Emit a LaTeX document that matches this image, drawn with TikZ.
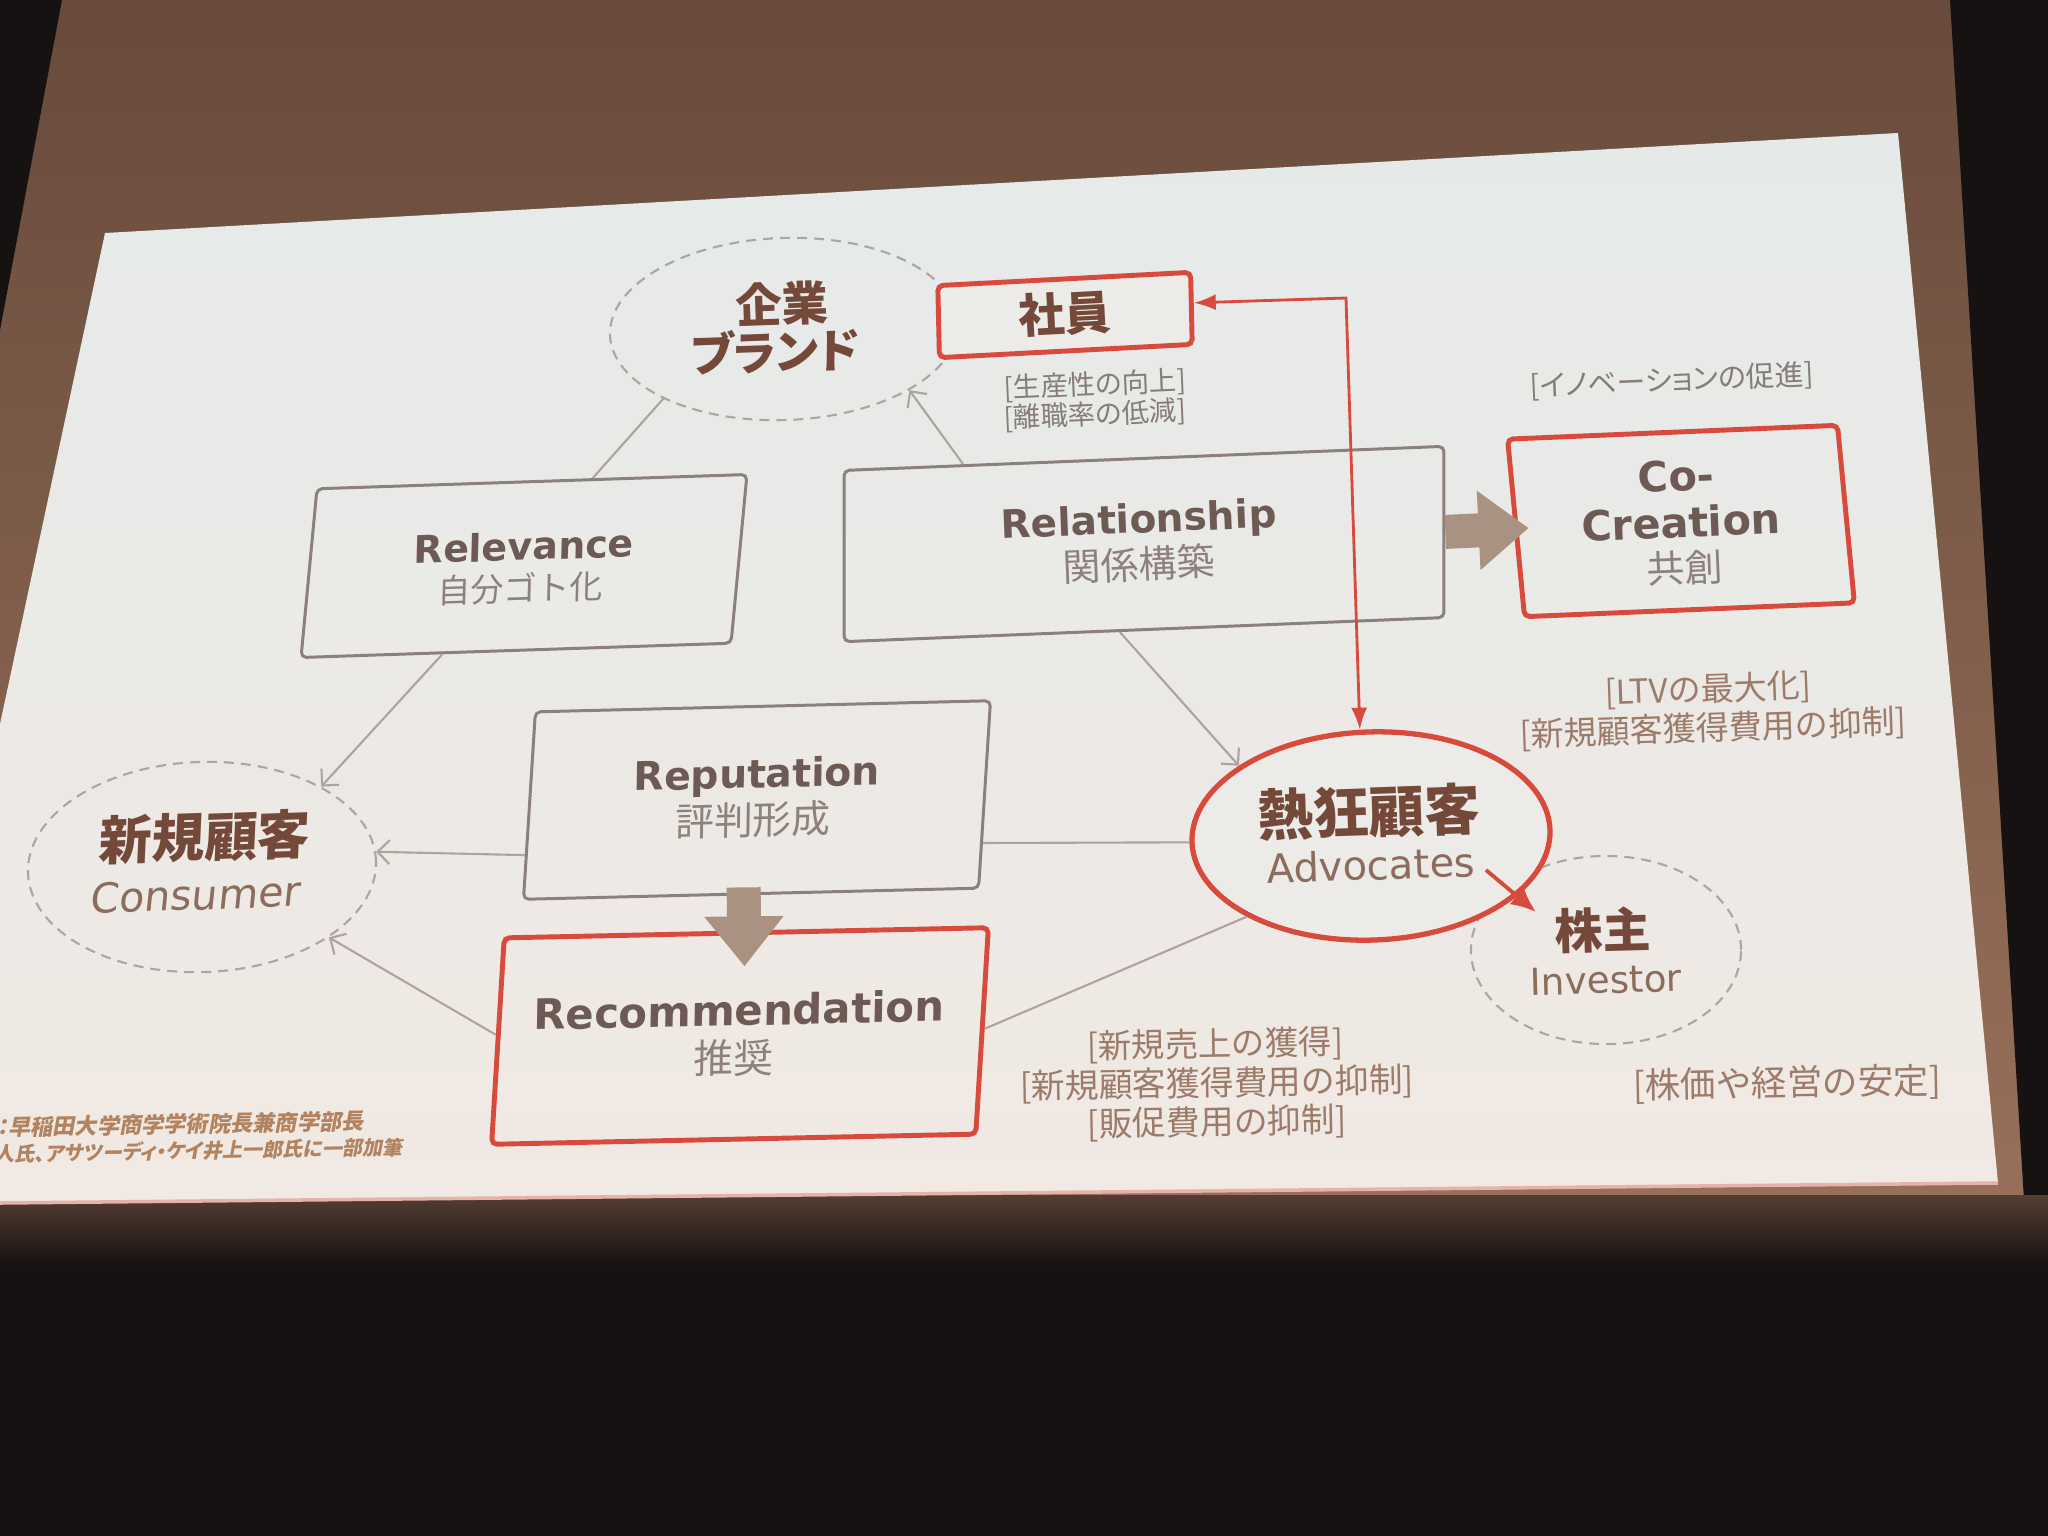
\documentclass[tikz,border=0pt]{standalone}
\usepackage{fontspec}
\setmainfont{DejaVu Sans}
\newfontfamily\jp{Noto Sans CJK JP}
\newfontfamily\jpp[RawFeature=+palt]{Noto Sans CJK JP}
\usetikzlibrary{shapes.geometric,arrows.meta,calc}
\newcommand\fsz[1]{\fontsize{#1}{#1}\selectfont}
\definecolor{wallA}{HTML}{684B3C}
\definecolor{wallB}{HTML}{98705A}
\definecolor{darkc}{HTML}{161212}
\definecolor{slideTop}{HTML}{E5EAE9}
\definecolor{slideBot}{HTML}{F1E9E3}
\definecolor{boxgray}{HTML}{8C807E}
\definecolor{slidered}{HTML}{D84A3C}
\definecolor{dashgray}{HTML}{ABA5A4}
\definecolor{conngray}{HTML}{ADA39F}
\definecolor{arrowfill}{HTML}{A99282}
\definecolor{titlebrown}{HTML}{74493A}
\definecolor{titlegray}{HTML}{6E5A54}
\definecolor{subgray}{HTML}{8E817D}
\definecolor{engbrown}{HTML}{8C6C5C}
\definecolor{notegray}{HTML}{867C79}
\definecolor{notebrown}{HTML}{9C7B69}
\definecolor{footc}{HTML}{B3835F}
\definecolor{fillc}{HTML}{ECEBE8}
\tikzset{
  graybox/.style={draw=boxgray, line width=0.85pt, rounded corners=1.5pt, inner sep=0pt},
  redbox/.style={draw=slidered, line width=1.4pt, rounded corners=1.5pt, inner sep=0pt},
  dashell/.style={ellipse, draw=dashgray, line width=0.6pt, dash pattern=on 0.1cm off 0.07cm, inner sep=0pt},
  redell/.style={ellipse, draw=slidered, line width=1.5pt, inner sep=0pt, fill=fillc},
  conn/.style={draw=conngray, line width=0.6pt, -{Straight Barb[length=0.12cm,width=0.24cm]}},
  plainline/.style={draw=conngray, line width=0.6pt},
  redarr/.style={draw=slidered, line width=0.8pt, {Latex[length=0.22cm,width=0.16cm]}-{Latex[length=0.22cm,width=0.16cm]}},
  redarrb/.style={draw=slidered, line width=1.1pt, -{Latex[length=0.25cm,width=0.22cm]}},
  bigarrow/.style={draw=arrowfill, line width=0.34cm, -{Triangle[length=0.50cm,width=0.76cm]}},
  jpT/.style={inner sep=0pt, text=titlebrown, font={\jpp\bfseries\fsz{#1}}},
  enT/.style={inner sep=0pt, text=titlegray, font={\bfseries\fsz{#1}}},
  jpS/.style={inner sep=0pt, text=subgray, font={\jp\fsz{#1}}},
  enS/.style={inner sep=0pt, text=engbrown, font={\fsz{#1}}},
  noteA/.style={inner sep=0pt, text=notegray, font={\jpp\fsz{#1}}},
  noteB/.style={inner sep=0pt, text=notebrown, font={\jp\fsz{#1}}},
  foot/.style={inner sep=0pt, text=footc, font={\jpp\bfseries\fsz{#1}}, xslant=0.2}
}
\begin{document}
\begin{tikzpicture}[x=0.01cm, y=-0.01cm]
\useasboundingbox (0,0) rectangle (2048,1536);
% ---- room background ----
\shade[top color=wallA, bottom color=wallB] (0,0) rectangle (2048,1210);
\fill[darkc] (0,0) -- (62,0) -- (0,330) -- cycle;
\fill[darkc] (1950,0) -- (2048,0) -- (2048,1536) -- (2030,1536) -- (2024,1200) -- cycle;
\fill[darkc] (0,1195) rectangle (2048,1536);
\shade[top color=black!45!wallB, bottom color=darkc] (0,1195) rectangle (2048,1265);
% ---- slide ----
\shade[top color=slideTop, bottom color=slideBot] (105,233) -- (1898,133) -- (1998,1183) -- (0,1203) -- (0,724) -- cycle;
\draw[color=slidered!35!slideBot, line width=1pt] (0,1203) -- (1998,1183);

% ---- ellipses ----
\node[dashell, minimum width=3.48cm, minimum height=1.82cm, rotate=2] (brand) at (784,329) {};
\node[dashell, minimum width=3.48cm, minimum height=2.10cm, rotate=2] (cons) at (202,867) {};
\node[dashell, minimum width=2.70cm, minimum height=1.88cm] (inv) at (1606,950) {};
\node[redell, minimum width=3.58cm, minimum height=2.08cm, rotate=2] (adv) at (1371,836) {};

% ---- boxes ----
\node[redbox, fill=fillc, minimum width=2.53cm, minimum height=0.72cm, rotate=3, xslant=0.03] (staff) at (1065,315) {};
\node[graybox, minimum width=4.30cm, minimum height=1.68cm, rotate=1.9, xslant=0.128] (relev) at (524,566) {};
\node[graybox, minimum width=6.00cm, minimum height=1.71cm, rotate=2.3, xslant=0.04] (relship) at (1144,544) {};
\node[redbox, minimum width=3.30cm, minimum height=1.78cm, rotate=2.4, xslant=-0.053] (cocr) at (1681,521) {};
\node[graybox, minimum width=4.55cm, minimum height=1.87cm, rotate=1.4, xslant=0.088] (rep) at (757,800) {};
\node[redbox, minimum width=4.84cm, minimum height=2.06cm, rotate=1.2, xslant=0.082] (rec) at (740,1036) {};

% ---- texts ----
\node[jpT=13.2pt, rotate=2] (brandA) at (782,304) {企業};
\node[jpT=13.2pt, rotate=2, xslant=0.05] (brandB) at (775,351) {ブランド};
\node[jpT=13.2pt, rotate=3] (staffT) at (1065,314) {社員};
\node[noteA=7.8pt, rotate=2.5] (nA1) at (1095,385) {[生産性の向上]};
\node[noteA=7.8pt, rotate=2.5] (nA2) at (1095,415) {[離職率の低減]};
\node[noteA=8.2pt, rotate=2.5] (nA3) at (1672,381) {[イノベーションの促進]};

\node[enT=10.8pt, rotate=1.9, xslant=0.06] (relevT) at (524,546) {Relevance};
\node[jpS=9.4pt, rotate=1.9, xslant=0.06] (relevS) at (520,588) {自分ゴト化};
\node[enT=11.1pt, rotate=2.3] (relshipT) at (1139,522) {Relationship};
\node[jpS=10.8pt, rotate=2.3] (relshipS) at (1139,564) {関係構築};
\node[enT=11.8pt, rotate=2.4] (cocrA) at (1676,476) {Co-};
\node[enT=11.8pt, rotate=2.4] (cocrB) at (1681,522) {Creation};
\node[jpS=10.8pt, rotate=2.4] (cocrS) at (1685,568) {共創};
\node[enT=11.2pt, rotate=1.4, xslant=0.04] (repT) at (757,777) {Reputation};
\node[jpS=11pt, rotate=1.4, xslant=0.04] (repS) at (753,820) {評判形成};
\node[enT=11.9pt, rotate=1.2, xslant=0.04] (recT) at (739,1010) {Recommendation};
\node[jpS=11.3pt, rotate=1.2, xslant=0.04] (recS) at (734,1058) {推奨};

\node[jpT=15pt, rotate=2, xslant=0.08] (consT) at (205,837) {新規顧客};
\node[enS=11.7pt, rotate=2, xslant=0.14] (consS) at (196,895) {Consumer};
\node[jpT=15.8pt, rotate=2] (advT) at (1369,812) {熱狂顧客};
\node[enS=11.4pt, rotate=2] (advS) at (1371,865) {Advocates};
\node[jpT=13.6pt, rotate=1.5] (invT) at (1603,930) {株主};
\node[enS=10.6pt, rotate=1.5] (invS) at (1606,980) {Investor};

\node[noteB=9.4pt, rotate=2] (nB1) at (1708,690) {[LTVの最大化]};
\node[noteB=9.4pt, rotate=2] (nB2) at (1713,729) {[新規顧客獲得費用の抑制]};
\node[noteB=9.5pt, rotate=1] (nC1) at (1215,1045) {[新規売上の獲得]};
\node[noteB=9.6pt, rotate=1] (nC2) at (1217,1084) {[新規顧客獲得費用の抑制]};
\node[noteB=9.6pt, rotate=1] (nC3) at (1217,1123) {[販促費用の抑制]};
\node[noteB=10.1pt, rotate=1] (nD1) at (1787,1084) {[株価や経営の安定]};

\node[foot=6.3pt, anchor=east, rotate=1] (fn1) at (366,1121) {：早稲田大学商学学術院長兼商学部長};
\node[foot=5.7pt, anchor=east, rotate=1] (fn2) at (405,1147) {人氏、アサツーディ・ケイ井上一郎氏に一部加筆};

% ---- connectors ----
\draw[plainline] ($(relev.north west)!0.64!(relev.north east)$) -- (brand.208);
\draw[conn] ($(relship.north west)!0.2!(relship.north east)$) -- (brand.332);
\draw[conn] ($(relev.south west)!0.33!(relev.south east)$) -- (cons.32);
\draw[conn] ($(rep.north west)!0.76!(rep.south west)$) -- (cons.3);
\draw[conn] ($(rec.north west)!0.47!(rec.south west)$) -- (cons.329);
\draw[conn] ($(relship.south west)!0.46!(relship.south east)$) -- (adv.150);
\draw[plainline] ($(rep.north east)!0.755!(rep.south east)$) -- (adv.180);
\draw[plainline] ($(rec.north east)!0.49!(rec.south east)$) -- (adv.211);

\coordinate (rcorner) at (1346,298);
\draw[redarr] ($(staff.north east)!0.43!(staff.south east)$) -- (rcorner) -- (adv.94);
\draw[redarrb] ([shift={(115,34)}]adv.center) -- ([shift={(-70,-38)}]inv.center);

\draw[bigarrow] ($(relship.north east)!0.5!(relship.south east)$) -- ([xshift=0.15cm]cocr.west);
\draw[bigarrow] ([yshift=0.08cm]$(rep.south west)!0.484!(rep.south east)$) -- ([yshift=-0.36cm]$(rec.north west)!0.496!(rec.north east)$);
\end{tikzpicture}
\end{document}
